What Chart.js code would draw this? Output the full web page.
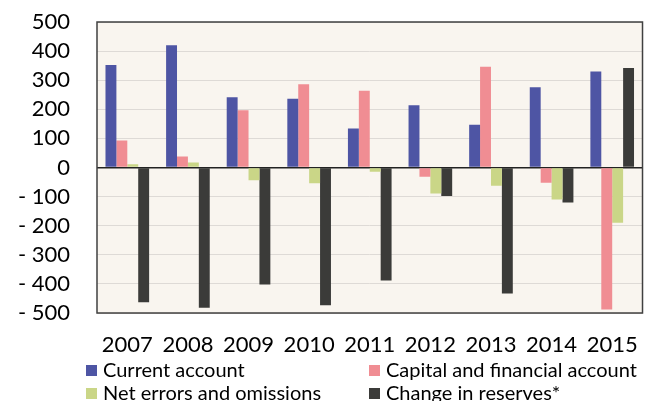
<!DOCTYPE html>
<html>
<head>
<meta charset="utf-8">
<script src="https://cdn.jsdelivr.net/npm/chart.js@4"></script>
<style>
  html, body { margin: 0; padding: 0; background: #fff; }
  #wrap { width: 657px; height: 401px; }
</style>
</head>
<body>
<div id="wrap"><canvas id="bar-chart" width="657" height="401"></canvas></div>
<script>
// --------------------- data ------------------------------
var years = ['2007', '2008', '2009', '2010', '2011', '2012', '2013', '2014', '2015'];
var currentAccount = [352, 420, 241, 236, 134, 214, 147, 276, 330];
var capitalFinancial = [93, 38, 197, 286, 264, -32, 346, -52, -488];
var netErrors = [11, 17, -44, -54, -15, -89, -63, -110, -190];
var reserveChange = [-463, -482, -402, -473, -388, -98, -433, -120, 342];
var yTicks = [500, 400, 300, 200, 100, 0, -100, -200, -300, -400, -500];

var FONT = 'Lato, sans-serif';

// plot background + frame
var frame = {
  id: 'frame',
  beforeDraw: function (chart) {
    var a = chart.chartArea, c = chart.ctx;
    c.save();
    c.fillStyle = '#f9f5ef';
    c.fillRect(a.left, a.top, a.right - a.left, a.bottom - a.top);
    c.restore();
  },
  afterDraw: function (chart) {
    var a = chart.chartArea, c = chart.ctx;
    c.save();
    c.strokeStyle = '#404040';
    c.lineWidth = 1.5;
    c.strokeRect(a.left, a.top, a.right - a.left, a.bottom - a.top);
    // two-column legend under the axis
    var cols = [86, 369], rows = [370, 393];
    chart.data.datasets.forEach(function (ds, i) {
      var x = cols[i % 2], y = rows[Math.floor(i / 2)];
      c.fillStyle = ds.backgroundColor;
      c.fillRect(x, y - 5, 11, 11);
      c.fillStyle = '#000';
      c.font = '20px ' + FONT;
      c.textBaseline = 'middle';
      c.fillText(ds.label, x + 17, y + 1);
    });
    c.restore();
  }
};

var ctx = document.getElementById('bar-chart').getContext('2d');
var chart = new Chart(ctx, {
  type: 'bar',
  data: {
    labels: years,
    datasets: [
      { label: 'Current account', data: currentAccount, backgroundColor: '#4e55a4' },
      { label: 'Capital and financial account', data: capitalFinancial, backgroundColor: '#f08d93' },
      { label: 'Net errors and omissions', data: netErrors, backgroundColor: '#cad687' },
      { label: 'Change in reserves*', data: reserveChange, backgroundColor: '#3b3b39' }
    ]
  },
  options: {
    responsive: false,
    animation: false,
    layout: { padding: { top: 22, right: 5, left: 0, bottom: 0 } },
    datasets: { bar: { categoryPercentage: 0.72, barPercentage: 1.0 } },
    plugins: { legend: { display: false }, tooltip: { enabled: false } },
    scales: {
      x: {
        grid: { display: false, drawTicks: false },
        border: { display: false },
        ticks: { color: '#000', padding: 19, font: { family: FONT, size: 22 } },
        afterFit: function (s) { s.height = 88; }
      },
      y: {
        min: -500,
        max: 500,
        afterBuildTicks: function (s) { s.ticks = yTicks.map(function (v) { return { value: v }; }); },
        afterFit: function (s) { s.width = 97; s.paddingTop = 0; s.paddingBottom = 0; },
        grid: {
          drawTicks: false,
          color: function (c) { return c.tick && c.tick.value === 0 ? '#222' : '#dedad6'; },
          lineWidth: function (c) { return c.tick && c.tick.value === 0 ? 1.5 : 1; }
        },
        border: { display: false },
        ticks: {
          autoSkip: false,
          color: '#000',
          padding: 27,
          font: { family: FONT, size: 22 },
          callback: function (v) { return v < 0 ? '- ' + Math.abs(v) : v; }
        }
      }
    }
  },
  plugins: [frame]
});
</script>
</body>
</html>
